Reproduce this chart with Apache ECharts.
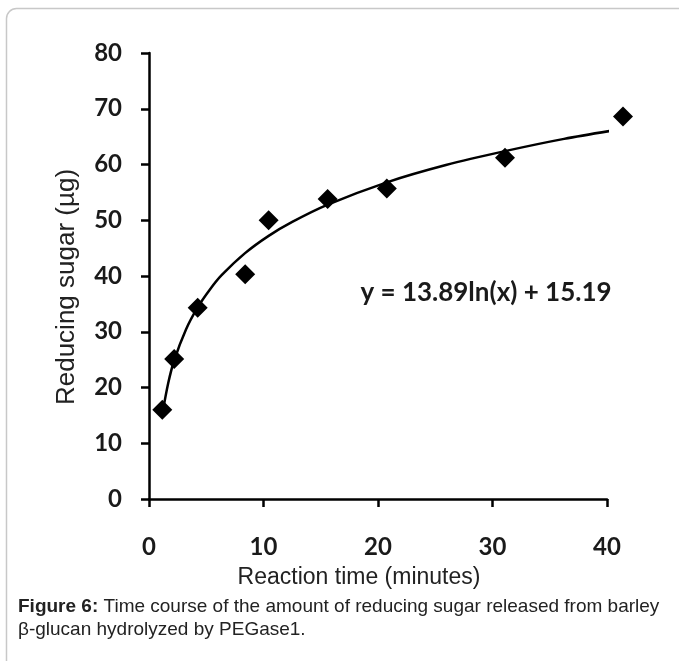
<!DOCTYPE html>
<html>
<head>
<meta charset="utf-8">
<script src="https://cdn.jsdelivr.net/npm/echarts@6/dist/echarts.min.js"></script>
<style>
  html, body { margin: 0; padding: 0; background: #fff; }
  #chart { width: 679px; height: 661px; }
</style>
</head>
<body>
<div id="chart"></div>
<script>
// measured points (x as plotted, y in µg)
var timeValues = [1.16, 2.2, 4.25, 8.4, 10.45, 15.6, 20.77, 31.09, 41.4];
var sugarValues = [16.0, 25.1, 34.3, 40.3, 50.0, 53.8, 55.7, 61.2, 68.6];

// trend line
var trendX = [1.16, 1.68, 2.19, 3.23, 4.26, 5.29, 6.32, 8.39, 10.45, 12.51, 15.61, 20.77, 25.93, 31.09, 36.25, 41.41];
var trendY = [15.2, 20.8, 24.8, 30.4, 34.4, 37.5, 40.1, 44.1, 47.2, 49.7, 52.8, 56.8, 59.9, 62.4, 64.6, 66.4];

var xTicks = [0, 10, 20, 30, 40];
var yTicks = [0, 10, 20, 30, 40, 50, 60, 70, 80];

var points = timeValues.map(function (t, i) { return [t, sugarValues[i]]; });
var trend = trendX.map(function (t, i) { return [t, trendY[i]]; });

var chart = echarts.init(document.getElementById("chart"));

var tickFont = { color: "#1a1a1a", fontFamily: "Lato", fontSize: 24, fontWeight: "bold" };

var option = {
  backgroundColor: "#fff",
  animation: false,
  grid: { left: 149, right: 72, top: 53, bottom: 162 },
  xAxis: {
    type: "value",
    min: xTicks[0],
    max: xTicks[xTicks.length - 1],
    interval: 10,
    axisLine: { lineStyle: { color: "#000", width: 2.5 } },
    axisTick: { show: true, length: 8, lineStyle: { color: "#000", width: 2.5 } },
    axisLabel: Object.assign({ margin: 36 }, tickFont),
    splitLine: { show: false }
  },
  yAxis: {
    type: "value",
    min: yTicks[0],
    max: yTicks[yTicks.length - 1],
    interval: 10,
    axisLine: { show: true, lineStyle: { color: "#000", width: 2.5 } },
    axisTick: { show: true, length: 8, lineStyle: { color: "#000", width: 2.5 } },
    axisLabel: Object.assign({ margin: 27 }, tickFont),
    splitLine: { show: false }
  },
  series: [
    {
      type: "line",
      data: trend,
      smooth: 0.3,
      showSymbol: false,
      clip: false,
      lineStyle: { color: "#000", width: 2.5 },
      z: 2
    },
    {
      type: "scatter",
      data: points,
      symbol: "diamond",
      symbolSize: 20,
      clip: false,
      itemStyle: { color: "#000", opacity: 1 },
      z: 3
    }
  ],
  graphic: [
    {
      type: "rect",
      shape: { x: 6.5, y: 8.5, width: 800, height: 800, r: 10 },
      style: { fill: "none", stroke: "#c8c8c8", lineWidth: 1.5 },
      silent: true
    },
    {
      type: "text",
      x: 67, y: 287,
      rotation: Math.PI / 2,
      style: {
        text: "Reducing sugar (µg)",
        fill: "#222",
        font: "26px 'Liberation Sans'",
        align: "center",
        verticalAlign: "middle"
      }
    },
    {
      type: "text",
      x: 359, y: 578,
      style: {
        text: "Reaction time (minutes)",
        fill: "#222",
        font: "23px 'Liberation Sans'",
        align: "center",
        verticalAlign: "middle"
      }
    },
    {
      type: "text",
      x: 486, y: 293,
      style: {
        text: "y = 13.89ln(x) + 15.19",
        fill: "#1a1a1a",
        font: "bold 26px Lato",
        align: "center",
        verticalAlign: "middle"
      }
    },
    {
      type: "text",
      x: 18, y: 618,
      style: {
        text: "{b|Figure 6:} Time course of the amount of reducing sugar released from barley\nβ-glucan hydrolyzed by PEGase1.",
        fill: "#222",
        font: "19px 'Liberation Sans'",
        lineHeight: 23,
        verticalAlign: "middle",
        rich: {
          b: { fontWeight: "bold", fontFamily: "Liberation Sans", fontSize: 19, fill: "#222", lineHeight: 23 }
        }
      }
    }
  ]
};

chart.setOption(option);
</script>
</body>
</html>
